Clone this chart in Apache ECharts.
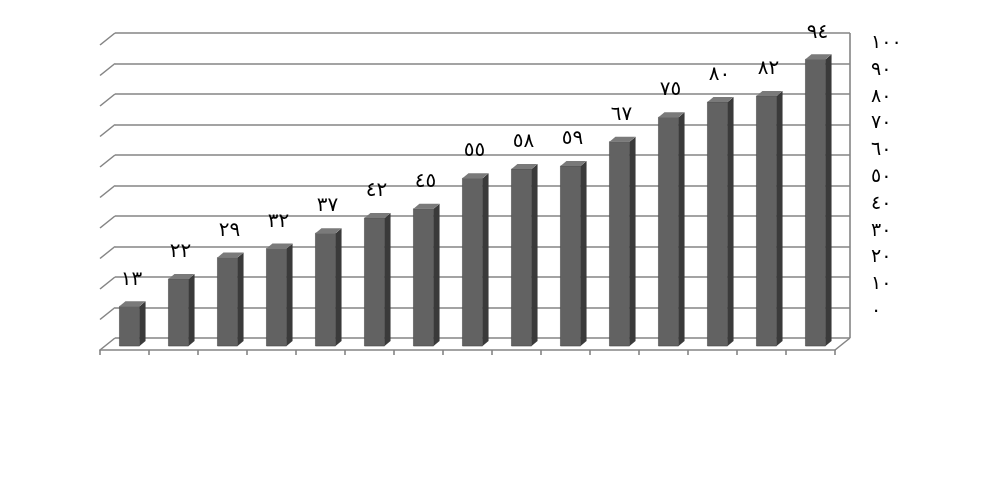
<!DOCTYPE html>
<html>
<head>
<meta charset="utf-8">
<script src="https://cdn.jsdelivr.net/npm/echarts@6/dist/echarts.min.js"></script>
<style>
  html, body { margin: 0; padding: 0; background: #fff; }
  #chart { width: 1004px; height: 500px; }
</style>
</head>
<body>
<div id="chart"></div>
<script>
const categories = ['1', '2', '3', '4', '5', '6', '7', '8', '9', '10', '11', '12', '13', '14', '15'];
const values = [13, 22, 29, 32, 37, 42, 45, 55, 58, 59, 67, 75, 80, 82, 94];
const valueLabels = ['١٣', '٢٢', '٢٩', '٣٢', '٣٧', '٤٢', '٤٥', '٥٥', '٥٨', '٥٩', '٦٧', '٧٥', '٨٠', '٨٢', '٩٤'];
const yTicks = [0, 10, 20, 30, 40, 50, 60, 70, 80, 90, 100];
const yTickLabels = ['٠', '١٠', '٢٠', '٣٠', '٤٠', '٥٠', '٦٠', '٧٠', '٨٠', '٩٠', '١٠٠'];

const chart = echarts.init(document.getElementById('chart'));

// depth of the 3d box: front edge -> back wall
const DX = 15, DY = 12;
const lineCol = '#858585';
const font = '"DejaVu Sans", sans-serif';

// back wall: grid lines + left wall slants + right edge
function renderWall(params, api) {
  const v = api.value(1);
  const p = api.coord([0, v]);
  const kids = [{
    type: 'line',
    shape: { x1: p[0], y1: p[1], x2: p[0] - DX, y2: p[1] + DY },
    style: { stroke: lineCol, lineWidth: 1.6 }
  }];
  if (v === 0) {
    const r0 = api.coord([15, 0]);
    const r1 = api.coord([15, 100]);
    kids.push({
      type: 'line',
      shape: { x1: r0[0], y1: r0[1], x2: r1[0], y2: r1[1] },
      style: { stroke: lineCol, lineWidth: 1.6 }
    });
    kids.push({
      type: 'line',
      shape: { x1: r0[0], y1: r0[1], x2: r0[0] - DX, y2: r0[1] + DY },
      style: { stroke: lineCol, lineWidth: 1.6 }
    });
  }
  return { type: 'group', children: kids };
}

// 3d column: front face, right side, top
function renderBar(params, api) {
  const i = api.value(0);
  const v = api.value(1);
  const base = api.coord([i, 0]);
  const top = api.coord([i, v]);
  const bw = api.size([1, 0])[0] * 0.41;
  const cx = base[0] + 5;
  const x0 = cx - bw / 2, x1 = cx + bw / 2;
  const yb = base[1] - 4, yt = top[1] - 4;
  const dx = 6, dy = -5;
  return {
    type: 'group',
    children: [
      { type: 'rect', shape: { x: x0, y: yt, width: bw, height: yb - yt },
        style: { fill: '#626262', stroke: '#4a4a4a', lineWidth: 0.6 } },
      { type: 'polygon', shape: { points: [[x1, yt], [x1 + dx, yt + dy], [x1 + dx, yb + dy], [x1, yb]] },
        style: { fill: '#3a3a3a' } },
      { type: 'polygon', shape: { points: [[x0, yt], [x1, yt], [x1 + dx, yt + dy], [x0 + dx, yt + dy]] },
        style: { fill: '#7a7a7a' } },
      { type: 'text', x: cx + 2, y: yt - 27,
        style: { text: valueLabels[i], fill: '#000', font: '20px ' + font, align: 'center', verticalAlign: 'middle' } }
    ]
  };
}

chart.setOption({
  animation: false,
  backgroundColor: '#fff',
  grid: [
    { left: 115, top: 33, width: 735, height: 305 },
    { left: 100, top: 45, width: 735, height: 305 },
    { left: 100, top: 43, width: 760, height: 268 }
  ],
  xAxis: [
    { gridIndex: 0, type: 'value', min: 0, max: 15, show: false },
    {
      gridIndex: 1, type: 'category', data: categories, boundaryGap: true,
      axisLine: { show: true, lineStyle: { color: lineCol, width: 1.6 } },
      axisTick: { show: true, length: 5, lineStyle: { color: lineCol, width: 1.6 } },
      axisLabel: { show: false },
      splitLine: { show: false }
    },
    { gridIndex: 2, type: 'value', show: false }
  ],
  yAxis: [
    {
      gridIndex: 0, type: 'value', min: 0, max: 100, interval: 10,
      axisLine: { show: false }, axisTick: { show: false }, axisLabel: { show: false },
      splitLine: { show: true, lineStyle: { color: lineCol, width: 1.6 } }
    },
    { gridIndex: 1, type: 'value', min: 0, max: 100, show: false },
    {
      gridIndex: 2, type: 'value', min: 0, max: 100, interval: 10, position: 'right',
      axisLine: { show: false }, axisTick: { show: false }, splitLine: { show: false },
      axisLabel: {
        margin: 11, color: '#000', fontSize: 19, fontFamily: font,
        formatter: v => yTickLabels[yTicks.indexOf(v)]
      }
    }
  ],
  series: [
    {
      type: 'custom', xAxisIndex: 0, yAxisIndex: 0, z: 1,
      data: yTicks.map(v => [0, v]),
      renderItem: renderWall
    },
    {
      type: 'custom', xAxisIndex: 1, yAxisIndex: 1, z: 3,
      data: values.map((v, i) => [i, v]),
      renderItem: renderBar
    }
  ]
});
</script>
</body>
</html>
